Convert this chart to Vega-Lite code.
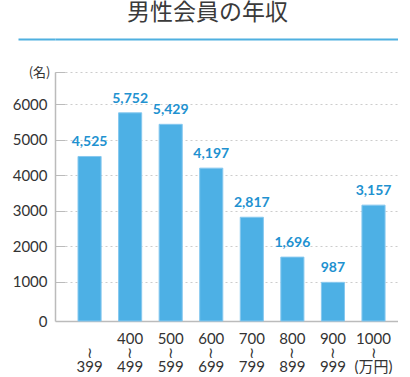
{
  "$schema": "https://vega.github.io/schema/vega-lite/v6.json",
  "padding": {"left": 12, "top": 1, "right": 0, "bottom": 0},
  "background": "white",
  "data": {"values": [
    {"range": "|≀|399", "count": 4525},
    {"range": "400|≀|499", "count": 5752},
    {"range": "500|≀|599", "count": 5429},
    {"range": "600|≀|699", "count": 4197},
    {"range": "700|≀|799", "count": 2817},
    {"range": "800|≀|899", "count": 1696},
    {"range": "900|≀|999", "count": 987},
    {"range": "1000|≀|(万円)", "count": 3157}
  ]},
  "spacing": 20,
  "vconcat": [
    {
      "width": 343,
      "height": 1,
      "view": {"stroke": null},
      "title": {"text": "男性会員の年収", "fontSize": 23, "font": "Noto Sans CJK JP", "color": "#3a3a3a", "fontWeight": "normal", "anchor": "middle", "frame": "bounds", "offset": 9},
      "mark": {"type": "text"},
      "encoding": {
        "y": {
          "datum": 0.5, "type": "quantitative",
          "scale": {"domain": [0, 1]},
          "axis": {
            "title": null, "values": [1], "labels": false, "domain": false,
            "tickSize": 37, "tickWidth": 2, "tickColor": "#4fb0e0",
            "grid": true, "gridWidth": 2, "gridColor": "#4fb0e0", "gridDash": []
          }
        },
        "text": {"value": ""}
      }
    },
    {
      "width": 343,
      "height": 249,
      "view": {"stroke": null},
      "encoding": {
        "x": {
          "field": "range", "type": "nominal", "sort": null,
          "scale": {"paddingInner": 0.43, "paddingOuter": 0.443, "align": 0.64},
          "axis": {
            "title": null, "labelAngle": 0, "ticks": false, "grid": false,
            "labelExpr": "split(datum.value, '|')",
            "labelFont": "Lato, Noto Sans CJK JP", "labelFontSize": 15, "labelColor": "#333",
            "labelLineHeight": 14, "labelPadding": 10,
            "domainColor": "#bbb", "domainWidth": 1.5
          }
        },
        "y": {
          "field": "count", "type": "quantitative",
          "scale": {"domain": [-100, 6900], "nice": false, "zero": false},
          "axis": {
            "title": "(名)", "titleAngle": 0, "titleAlign": "right", "titleBaseline": "middle",
            "titleX": -5, "titleY": 0, "titleFontSize": 13, "titleFontWeight": "normal",
            "titleColor": "#333", "titleFont": "Noto Sans CJK JP",
            "values": [0, 1000, 2000, 3000, 4000, 5000, 6000, 6900],
            "labelExpr": "datum.value > 6000 ? '' : datum.value",
            "labelOverlap": false,
            "labelFont": "Lato", "labelFontSize": 15, "labelColor": "#333",
            "tickSize": -10, "tickColor": "#bbb",
            "tickOpacity": {"condition": {"test": "datum.value === 0", "value": 0}, "value": 1},
            "labelPadding": 18,
            "labelOffset": {"condition": {"test": "datum.value === 0", "value": 4}, "value": 0},
            "domainColor": "#bbb", "domainWidth": 1.5,
            "grid": true, "gridColor": "#ccc", "gridDash": [2, 3],
            "gridOpacity": {"condition": {"test": "datum.value === 0", "value": 0}, "value": 1}
          }
        }
      },
      "layer": [
        {
          "mark": {"type": "bar", "fill": "#4db0e5", "stroke": "#86c8ef", "strokeWidth": 1},
          "encoding": {"y2": {"datum": -100}}
        },
        {
          "mark": {"type": "text", "baseline": "bottom", "dy": -7, "font": "Lato", "fontSize": 14, "fontWeight": "bold", "color": "#2191d0"},
          "encoding": {
            "text": {"field": "count", "type": "quantitative", "format": ","}
          }
        }
      ]
    }
  ]
}
